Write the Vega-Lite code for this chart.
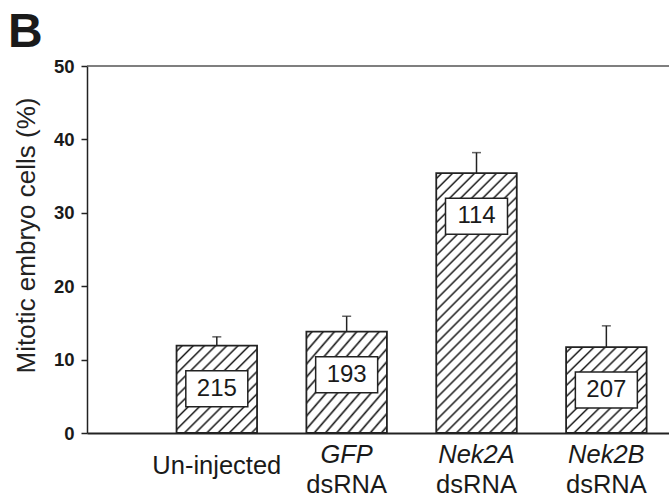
{
  "$schema": "https://vega.github.io/schema/vega-lite/v6.json",
  "width": 582,
  "height": 367,
  "autosize": {"type": "none"},
  "padding": {"left": 87, "top": 66, "right": 0, "bottom": 65},
  "background": "white",
  "title": {"text": "B", "font": "Liberation Sans", "fontSize": 48, "fontWeight": "bold", "color": "#1a1a1a", "anchor": "start", "frame": "group", "dx": -79, "baseline": "top", "offset": 12, "dy": 12},
  "config": {"view": {"stroke": null}, "font": "Liberation Sans"},
  "data": {"values": [
    {"group": "Un-injected", "gene": "", "agent": "", "value": 11.9, "upper": 13.1, "n": 215},
    {"group": "GFP dsRNA", "gene": "GFP", "agent": "dsRNA", "value": 13.8, "upper": 15.9, "n": 193},
    {"group": "Nek2A dsRNA", "gene": "Nek2A", "agent": "dsRNA", "value": 35.4, "upper": 38.2, "n": 114},
    {"group": "Nek2B dsRNA", "gene": "Nek2B", "agent": "dsRNA", "value": 11.7, "upper": 14.6, "n": 207}
  ]},
  "encoding": {
    "x": {"field": "group", "type": "nominal", "sort": ["Un-injected", "GFP dsRNA", "Nek2A dsRNA", "Nek2B dsRNA"],
      "scale": {"domain": ["Un-injected", "GFP dsRNA", "Nek2A dsRNA", "Nek2B dsRNA"], "paddingInner": 0.38, "paddingOuter": 0.431, "align": 0.8},
      "axis": {"labels": false, "ticks": false, "title": null, "grid": false, "domainColor": "#222", "domainWidth": 2}}
  },
  "layer": [
    {
      "data": {"values": [{}]},
      "mark": {"type": "rule", "color": "#555", "strokeWidth": 1.5},
      "encoding": {"x": null, "y": {"datum": 50}}
    },
    {
      "transform": [{"filter": "datum.n != 114"}],
      "mark": {"type": "bar", "stroke": "#222", "strokeWidth": 1.8,
        "fill": {"gradient": "linear", "x1": 0, "y1": 0, "x2": 0.958, "y2": 1.039, "stops": [
          {"offset": 0, "color": "white"},
          {"offset": 0.0206, "color": "white"}, {"offset": 0.0333, "color": "#1a1a1a"}, {"offset": 0.046, "color": "white"},
          {"offset": 0.0873, "color": "white"}, {"offset": 0.1, "color": "#1a1a1a"}, {"offset": 0.1127, "color": "white"},
          {"offset": 0.154, "color": "white"}, {"offset": 0.1667, "color": "#1a1a1a"}, {"offset": 0.1794, "color": "white"},
          {"offset": 0.2206, "color": "white"}, {"offset": 0.2333, "color": "#1a1a1a"}, {"offset": 0.246, "color": "white"},
          {"offset": 0.2873, "color": "white"}, {"offset": 0.3, "color": "#1a1a1a"}, {"offset": 0.3127, "color": "white"},
          {"offset": 0.354, "color": "white"}, {"offset": 0.3667, "color": "#1a1a1a"}, {"offset": 0.3794, "color": "white"},
          {"offset": 0.4206, "color": "white"}, {"offset": 0.4333, "color": "#1a1a1a"}, {"offset": 0.446, "color": "white"},
          {"offset": 0.4873, "color": "white"}, {"offset": 0.5, "color": "#1a1a1a"}, {"offset": 0.5127, "color": "white"},
          {"offset": 0.554, "color": "white"}, {"offset": 0.5667, "color": "#1a1a1a"}, {"offset": 0.5794, "color": "white"},
          {"offset": 0.6206, "color": "white"}, {"offset": 0.6333, "color": "#1a1a1a"}, {"offset": 0.646, "color": "white"},
          {"offset": 0.6873, "color": "white"}, {"offset": 0.7, "color": "#1a1a1a"}, {"offset": 0.7127, "color": "white"},
          {"offset": 0.754, "color": "white"}, {"offset": 0.7667, "color": "#1a1a1a"}, {"offset": 0.7794, "color": "white"},
          {"offset": 0.8206, "color": "white"}, {"offset": 0.8333, "color": "#1a1a1a"}, {"offset": 0.846, "color": "white"},
          {"offset": 0.8873, "color": "white"}, {"offset": 0.9, "color": "#1a1a1a"}, {"offset": 0.9127, "color": "white"},
          {"offset": 0.954, "color": "white"}, {"offset": 0.9667, "color": "#1a1a1a"}, {"offset": 0.9794, "color": "white"},
          {"offset": 1, "color": "white"}
        ]}},
      "encoding": {
        "y": {"field": "value", "type": "quantitative",
          "scale": {"domain": [0, 50], "nice": false, "zero": true},
          "axis": {"values": [0, 10, 20, 30, 40, 50], "grid": false, "tickSize": 6, "tickWidth": 1.5, "tickColor": "#222",
            "domainColor": "#222", "domainWidth": 1.5, "labelFont": "Liberation Sans", "labelFontWeight": "bold",
            "labelFontSize": 18.5, "labelColor": "#1a1a1a", "labelPadding": 7,
            "title": "Mitotic embryo cells (%)", "titleFont": "Liberation Sans", "titleFontSize": 26,
            "titleFontWeight": "normal", "titleColor": "#222", "titlePadding": 14, "titleY": 169}}
      }
    },
    {
      "transform": [{"filter": "datum.n == 114"}],
      "mark": {"type": "bar", "stroke": "#222", "strokeWidth": 1.8,
        "fill": {"gradient": "linear", "x1": 0, "y1": 0, "x2": 0.3703, "y2": 1.1951, "stops": [
          {"offset": 0, "color": "white"},
          {"offset": 0.0099, "color": "white"}, {"offset": 0.0161, "color": "#1a1a1a"}, {"offset": 0.0223, "color": "white"},
          {"offset": 0.0422, "color": "white"}, {"offset": 0.0484, "color": "#1a1a1a"}, {"offset": 0.0546, "color": "white"},
          {"offset": 0.0744, "color": "white"}, {"offset": 0.0806, "color": "#1a1a1a"}, {"offset": 0.0868, "color": "white"},
          {"offset": 0.1067, "color": "white"}, {"offset": 0.1129, "color": "#1a1a1a"}, {"offset": 0.1191, "color": "white"},
          {"offset": 0.139, "color": "white"}, {"offset": 0.1452, "color": "#1a1a1a"}, {"offset": 0.1514, "color": "white"},
          {"offset": 0.1712, "color": "white"}, {"offset": 0.1774, "color": "#1a1a1a"}, {"offset": 0.1836, "color": "white"},
          {"offset": 0.2035, "color": "white"}, {"offset": 0.2097, "color": "#1a1a1a"}, {"offset": 0.2159, "color": "white"},
          {"offset": 0.2357, "color": "white"}, {"offset": 0.2419, "color": "#1a1a1a"}, {"offset": 0.2481, "color": "white"},
          {"offset": 0.268, "color": "white"}, {"offset": 0.2742, "color": "#1a1a1a"}, {"offset": 0.2804, "color": "white"},
          {"offset": 0.3003, "color": "white"}, {"offset": 0.3065, "color": "#1a1a1a"}, {"offset": 0.3127, "color": "white"},
          {"offset": 0.3325, "color": "white"}, {"offset": 0.3387, "color": "#1a1a1a"}, {"offset": 0.3449, "color": "white"},
          {"offset": 0.3648, "color": "white"}, {"offset": 0.371, "color": "#1a1a1a"}, {"offset": 0.3772, "color": "white"},
          {"offset": 0.397, "color": "white"}, {"offset": 0.4032, "color": "#1a1a1a"}, {"offset": 0.4094, "color": "white"},
          {"offset": 0.4293, "color": "white"}, {"offset": 0.4355, "color": "#1a1a1a"}, {"offset": 0.4417, "color": "white"},
          {"offset": 0.4615, "color": "white"}, {"offset": 0.4677, "color": "#1a1a1a"}, {"offset": 0.4739, "color": "white"},
          {"offset": 0.4938, "color": "white"}, {"offset": 0.5, "color": "#1a1a1a"}, {"offset": 0.5062, "color": "white"},
          {"offset": 0.5261, "color": "white"}, {"offset": 0.5323, "color": "#1a1a1a"}, {"offset": 0.5385, "color": "white"},
          {"offset": 0.5583, "color": "white"}, {"offset": 0.5645, "color": "#1a1a1a"}, {"offset": 0.5707, "color": "white"},
          {"offset": 0.5906, "color": "white"}, {"offset": 0.5968, "color": "#1a1a1a"}, {"offset": 0.603, "color": "white"},
          {"offset": 0.6228, "color": "white"}, {"offset": 0.629, "color": "#1a1a1a"}, {"offset": 0.6352, "color": "white"},
          {"offset": 0.6551, "color": "white"}, {"offset": 0.6613, "color": "#1a1a1a"}, {"offset": 0.6675, "color": "white"},
          {"offset": 0.6873, "color": "white"}, {"offset": 0.6935, "color": "#1a1a1a"}, {"offset": 0.6997, "color": "white"},
          {"offset": 0.7196, "color": "white"}, {"offset": 0.7258, "color": "#1a1a1a"}, {"offset": 0.732, "color": "white"},
          {"offset": 0.7519, "color": "white"}, {"offset": 0.7581, "color": "#1a1a1a"}, {"offset": 0.7643, "color": "white"},
          {"offset": 0.7841, "color": "white"}, {"offset": 0.7903, "color": "#1a1a1a"}, {"offset": 0.7965, "color": "white"},
          {"offset": 0.8164, "color": "white"}, {"offset": 0.8226, "color": "#1a1a1a"}, {"offset": 0.8288, "color": "white"},
          {"offset": 0.8486, "color": "white"}, {"offset": 0.8548, "color": "#1a1a1a"}, {"offset": 0.861, "color": "white"},
          {"offset": 0.8809, "color": "white"}, {"offset": 0.8871, "color": "#1a1a1a"}, {"offset": 0.8933, "color": "white"},
          {"offset": 0.9132, "color": "white"}, {"offset": 0.9194, "color": "#1a1a1a"}, {"offset": 0.9256, "color": "white"},
          {"offset": 0.9454, "color": "white"}, {"offset": 0.9516, "color": "#1a1a1a"}, {"offset": 0.9578, "color": "white"},
          {"offset": 0.9777, "color": "white"}, {"offset": 0.9839, "color": "#1a1a1a"}, {"offset": 0.9901, "color": "white"},
          {"offset": 1, "color": "white"}
        ]}},
      "encoding": {"y": {"field": "value", "type": "quantitative"}}
    },
    {
      "mark": {"type": "rule", "color": "#222", "strokeWidth": 1.5},
      "encoding": {"y": {"field": "value", "type": "quantitative"}, "y2": {"field": "upper"}}
    },
    {
      "mark": {"type": "tick", "color": "#222", "size": 9, "thickness": 1.5},
      "encoding": {"y": {"field": "upper", "type": "quantitative"}}
    },
    {
      "mark": {"type": "bar", "fill": "white", "stroke": "#222", "strokeWidth": 1.5, "width": {"band": 0.77}, "yOffset": 25, "y2Offset": 61},
      "encoding": {"y": {"field": "value", "type": "quantitative"}, "y2": {"field": "value"}}
    },
    {
      "mark": {"type": "text", "fontSize": 24, "color": "#1a1a1a", "baseline": "middle", "align": "center", "dy": 43},
      "encoding": {"y": {"field": "value", "type": "quantitative"}, "text": {"field": "n"}}
    },
    {
      "transform": [{"filter": "datum.gene == ''"}],
      "mark": {"type": "text", "fontSize": 25.5, "color": "#1a1a1a", "baseline": "alphabetic", "align": "center", "dy": 41},
      "encoding": {"y": {"datum": 0}, "text": {"field": "group"}}
    },
    {
      "transform": [{"filter": "datum.gene != ''"}],
      "mark": {"type": "text", "fontSize": 25.5, "fontStyle": "italic", "color": "#1a1a1a", "baseline": "alphabetic", "align": "center", "dy": 30},
      "encoding": {"y": {"datum": 0}, "text": {"field": "gene"}}
    },
    {
      "transform": [{"filter": "datum.gene != ''"}],
      "mark": {"type": "text", "fontSize": 25.5, "color": "#1a1a1a", "baseline": "alphabetic", "align": "center", "dy": 60},
      "encoding": {"y": {"datum": 0}, "text": {"field": "agent"}}
    }
  ]
}
